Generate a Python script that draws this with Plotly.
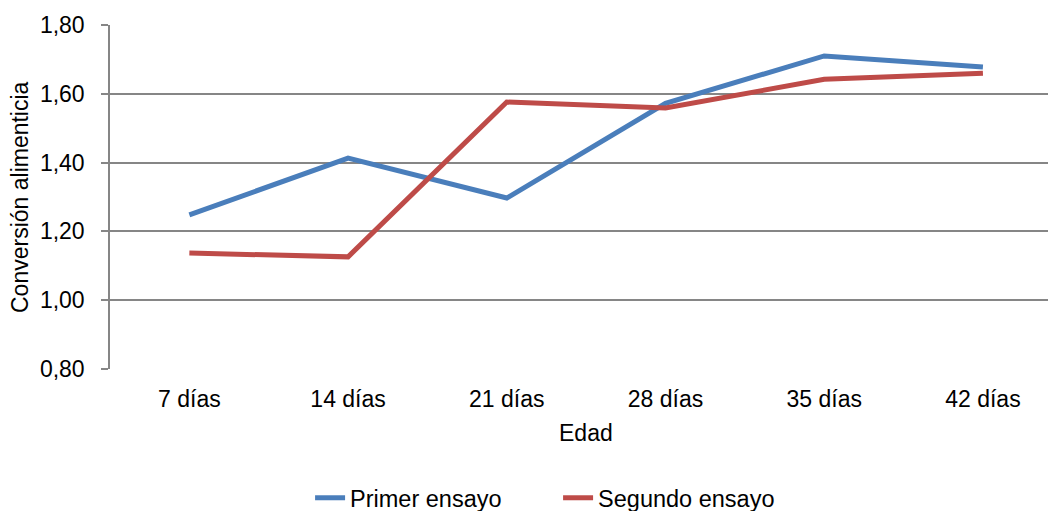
import plotly.graph_objects as go

# Feed conversion by bird age, two trials
edad = ["7 días", "14 días", "21 días", "28 días", "35 días", "42 días"]
primer_ensayo = [1.248, 1.413, 1.297, 1.572, 1.710, 1.678]
segundo_ensayo = [1.137, 1.126, 1.576, 1.559, 1.642, 1.660]

FONT = "Liberation Sans, Arial, sans-serif"
GRID = "#868686"

fig = go.Figure()
fig.add_trace(go.Scatter(
    x=list(range(len(edad))), y=primer_ensayo, name="Primer ensayo",
    mode="lines", line=dict(color="#4A7EBB", width=5),
))
fig.add_trace(go.Scatter(
    x=list(range(len(edad))), y=segundo_ensayo, name="Segundo ensayo",
    mode="lines", line=dict(color="#BE4B48", width=5),
))

fig.update_layout(
    width=1048, height=511,
    margin=dict(l=110, r=0, t=25, b=142, autoexpand=False),
    paper_bgcolor="white", plot_bgcolor="white",
    separators=",.",
    font=dict(family=FONT, size=23, color="black"),
    showlegend=True,
    legend=dict(
        orientation="h", x=0.2133, xanchor="left", y=-0.311, yanchor="top",
        font=dict(family=FONT, size=23.5, color="black"),
        entrywidth=203, entrywidthmode="pixels",
        itemwidth=30, tracegroupgap=0,
    ),
    xaxis=dict(
        range=[-0.5, 5.41],
        tickmode="array", tickvals=list(range(len(edad))), ticktext=edad,
        showgrid=False, zeroline=False, showline=False, ticks="",
        ticklabelstandoff=14,
        fixedrange=True,
    ),
    yaxis=dict(
        range=[0.8, 1.8], tick0=0.8, dtick=0.2, tickformat=".2f",
        showgrid=True, gridcolor=GRID, gridwidth=1.5,
        showline=True, linecolor=GRID, linewidth=1.5,
        ticks="outside", ticklen=7, tickcolor=GRID, tickwidth=1.5,
        ticklabelstandoff=12,
        zeroline=False, fixedrange=True,
    ),
    annotations=[
        dict(text="Edad", x=2.5, xref="x", y=-64/344, yref="paper",
             xanchor="center", yanchor="middle", showarrow=False,
             font=dict(family=FONT, size=23, color="black")),
        dict(text="Conversión alimenticia", x=-90/938, xref="paper", y=0.5, yref="paper",
             xanchor="center", yanchor="middle", textangle=-90, showarrow=False,
             font=dict(family=FONT, size=23, color="black")),
    ],
)

fig.write_html("out.html")
